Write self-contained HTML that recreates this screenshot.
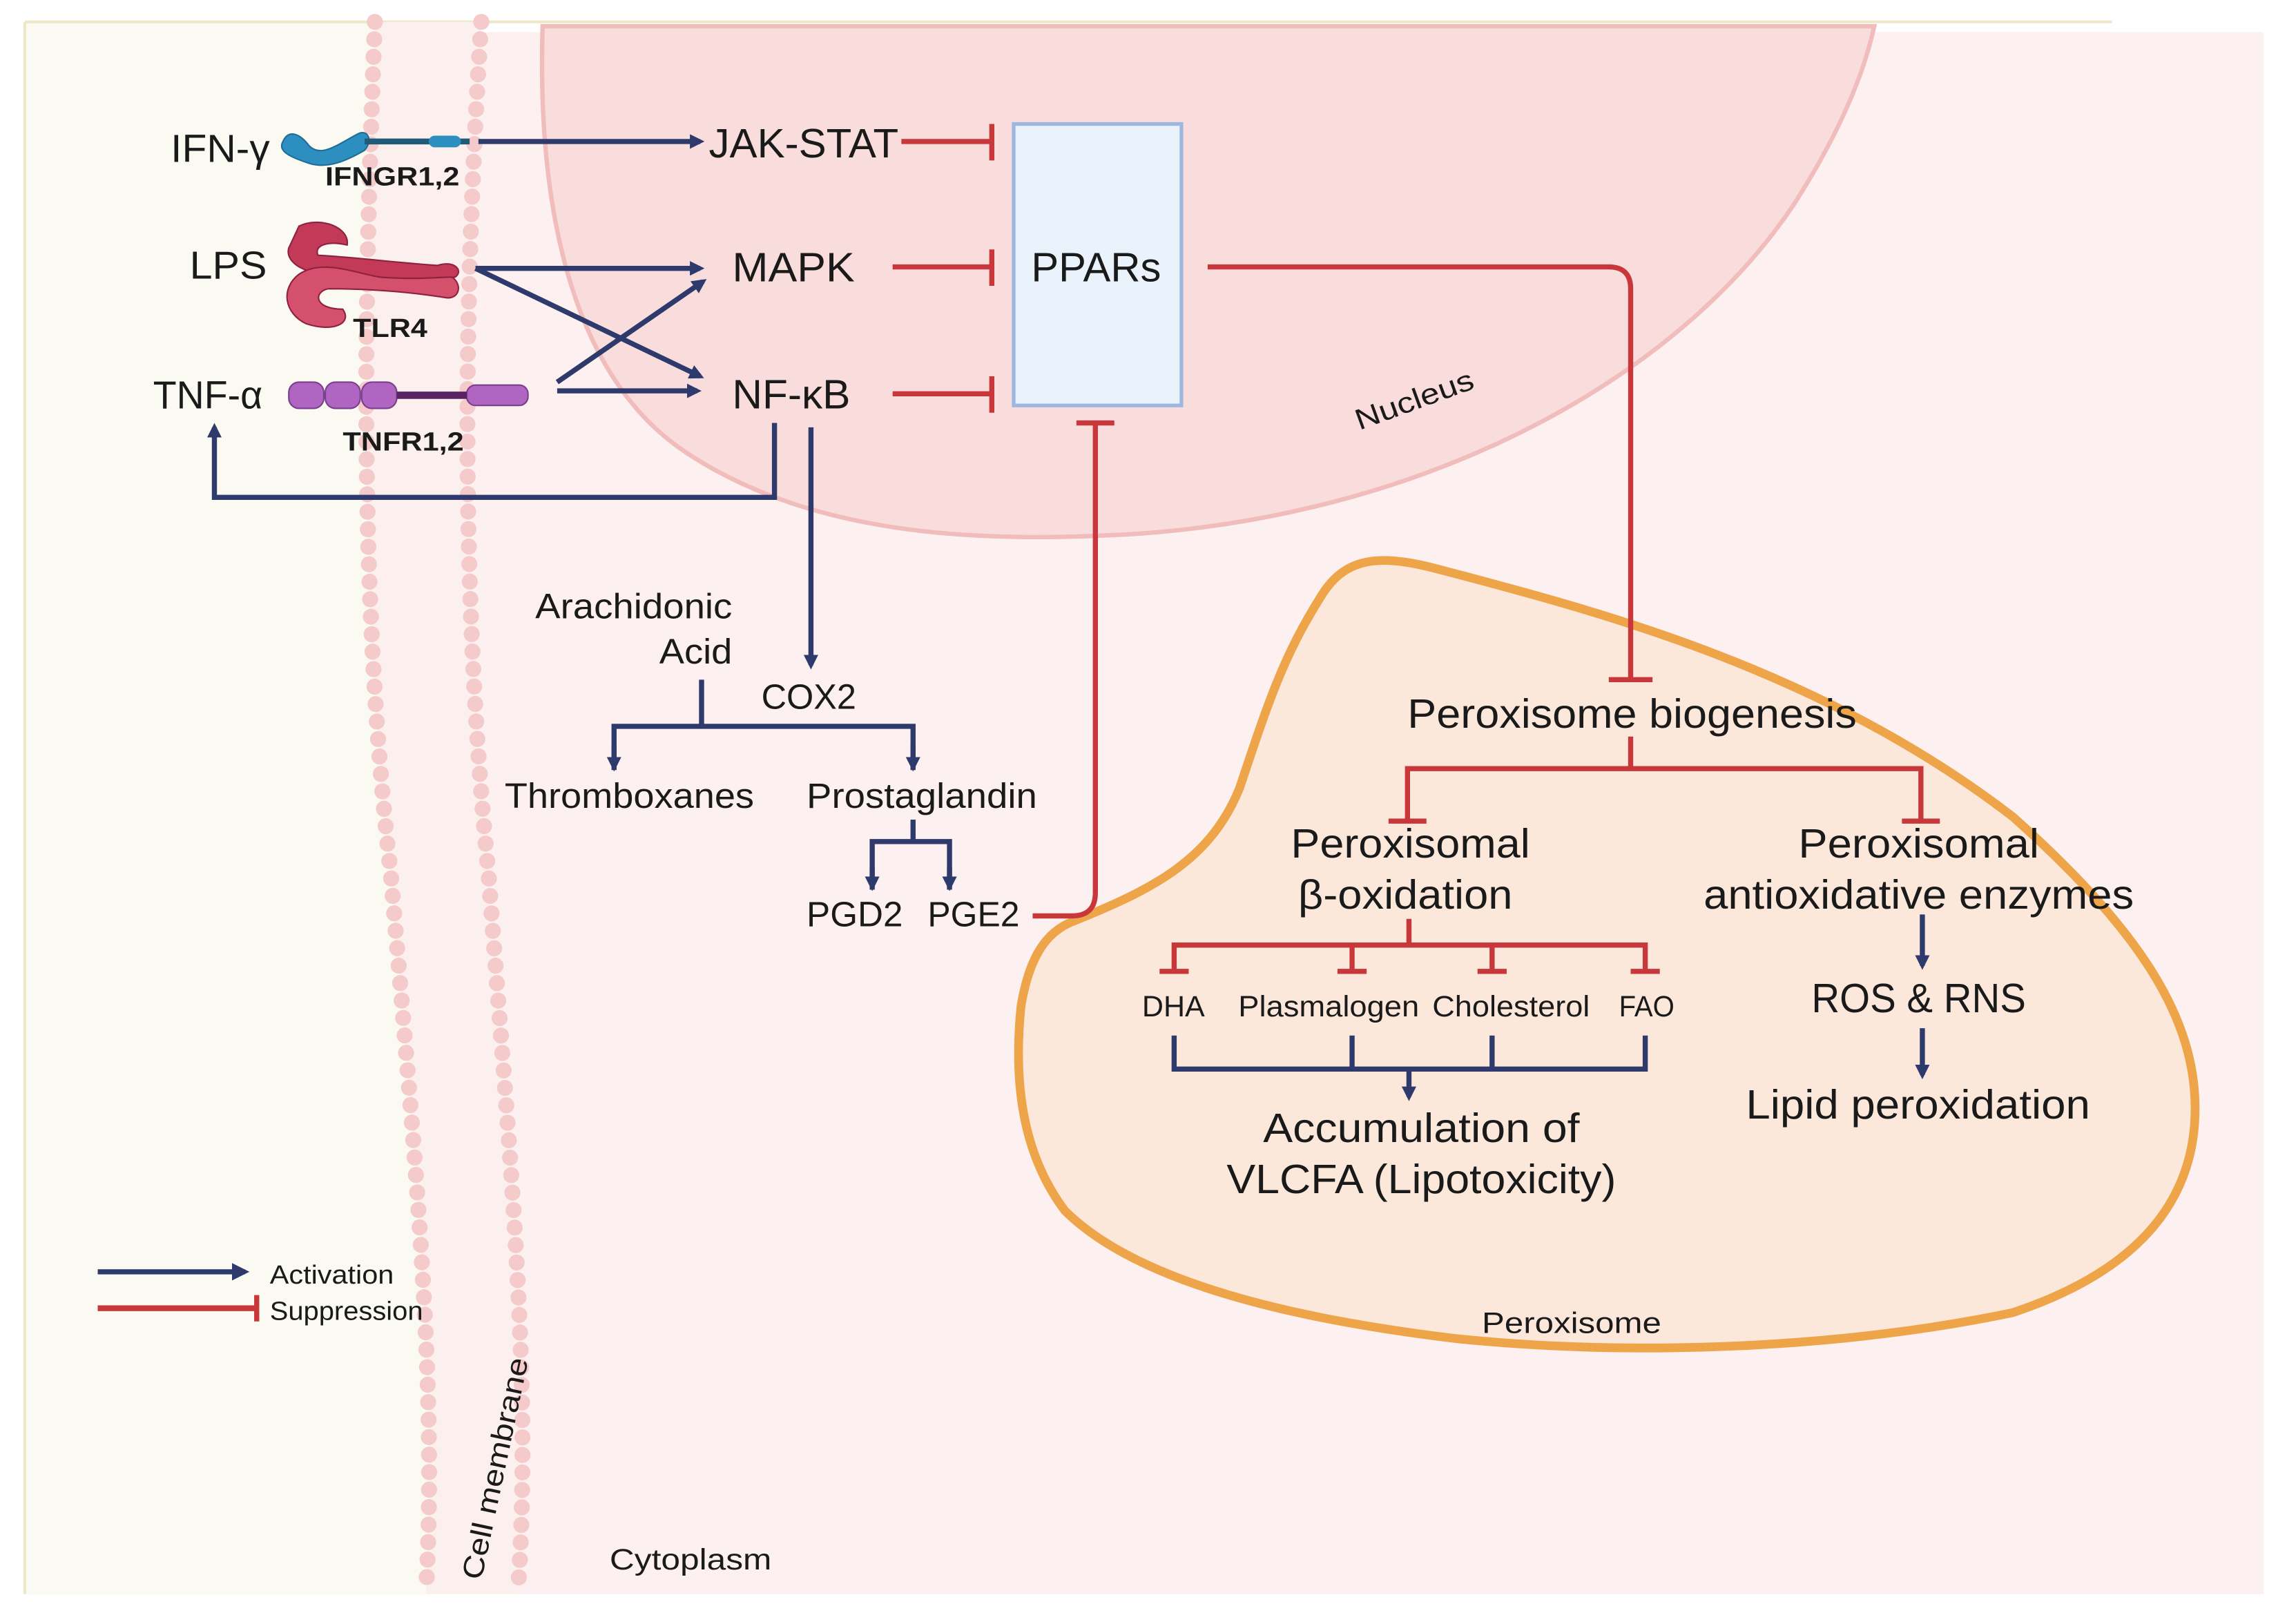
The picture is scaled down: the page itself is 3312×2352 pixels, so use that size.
<!DOCTYPE html>
<html><head><meta charset="utf-8"><style>
html,body{margin:0;padding:0;background:#fff;}
svg{display:block;}
text{font-family:"Liberation Sans",sans-serif;fill:#1a1a1a;}
</style></head><body>
<svg width="3312" height="2352" viewBox="0 0 1568 1113.5" xmlns="http://www.w3.org/2000/svg">
<defs>
<marker id="ab" markerWidth="10" markerHeight="10" refX="7" refY="5" orient="auto" markerUnits="userSpaceOnUse"><path d="M0,0 L10,5 L0,10 Z" fill="#2e3a6b"/></marker>
<marker id="abs" markerWidth="12" markerHeight="12" refX="9" refY="6" orient="auto" markerUnits="userSpaceOnUse"><path d="M0,0 L12,6 L0,12 Z" fill="#2e3a6b"/></marker>
</defs>
<rect width="1568" height="1113.5" fill="#fff"/>
<rect x="17" y="22" width="1535" height="1071" fill="#fdf0f0"/>
<path d="M17,15 L257,15 C250,200 245,400 268,600 C285,800 300,950 292,1093 L17,1093 Z" fill="#fbfaf2"/>
<line x1="17" y1="15" x2="1448" y2="15" stroke="#efe8c8" stroke-width="2"/>
<line x1="17" y1="15" x2="17" y2="1093" stroke="#efe8c8" stroke-width="2"/>
<!-- nucleus -->
<path d="M372,18 C368,150 395,260 470,310 C560,370 680,372 780,366 C980,352 1150,260 1230,140 C1262,90 1278,50 1285,18 Z" fill="#f9dcdc" stroke="#f1bcbc" stroke-width="3"/>
<!-- membrane -->
<path d="M257,15 C250,200 245,400 268,600 C285,800 300,950 292,1093 L355,1093 C365,950 350,800 335,600 C315,400 318,200 330,15 Z" fill="#fcf0ee"/>
<path d="M257,15 C250,200 245,400 268,600 C285,800 300,950 292,1093" fill="none" stroke="#f4caca" stroke-width="11" stroke-dasharray="0 12" stroke-linecap="round"/>
<path d="M330,15 C318,200 315,400 335,600 C350,800 365,950 355,1093" fill="none" stroke="#f4caca" stroke-width="11" stroke-dasharray="0 12" stroke-linecap="round"/>
<!-- peroxisome -->
<path d="M735,632 C790,610 830,590 850,540 C870,480 880,450 905,410 C920,385 940,378 985,390 C1100,420 1250,460 1380,560 C1470,640 1505,700 1505,760 C1505,820 1470,870 1380,900 C1260,925 1120,930 1000,918 C890,905 780,880 730,830 C700,790 695,740 700,690 C705,660 715,640 735,632 Z" fill="#fbe8db" stroke="#eea448" stroke-width="6"/>
<rect x="695" y="85" width="115" height="193" fill="#eaf2fb" stroke="#9db8e0" stroke-width="2.5"/>
<text x="707" y="193" font-size="28" textLength="89" lengthAdjust="spacingAndGlyphs">PPARs</text>
<!-- receptors -->
<path d="M194,97 C198,88 206,92 212,100 C220,108 230,100 245,92 C252,88 256,96 250,103 C238,110 225,116 212,112 C200,108 190,104 194,97 Z" fill="#2d8fbf" stroke="#1f6d96" stroke-width="1"/>
<line x1="250" y1="97" x2="322" y2="97" stroke="#1f5a78" stroke-width="4"/>
<rect x="294" y="93" width="22" height="8" rx="4" fill="#2d8fbf"/>
<path d="M205,155 C220,148 240,156 238,168 C225,165 215,168 218,175 C240,176 270,180 300,182 C312,178 318,186 312,190 C290,193 260,190 235,188 C210,190 195,180 198,170 Z" fill="#c23a58" stroke="#8e2140" stroke-width="1"/>
<path d="M205,188 C220,178 240,186 260,190 C285,192 300,190 310,190 C318,196 314,206 305,204 C280,200 255,198 225,198 C215,200 215,212 235,212 C242,222 228,228 210,222 C195,215 192,198 205,188 Z" fill="#d4506c" stroke="#8e2140" stroke-width="1"/>
<g fill="#b065c3" stroke="#7a3f8a" stroke-width="1">
<rect x="198" y="262" width="24" height="18" rx="7"/><rect x="223" y="262" width="24" height="18" rx="7"/><rect x="248" y="262" width="24" height="18" rx="7"/>
<rect x="320" y="264" width="42" height="14" rx="6"/></g>
<line x1="272" y1="271" x2="320" y2="271" stroke="#5a2462" stroke-width="5"/>
<!-- labels -->
<text x="117" y="111" font-size="27" textLength="68" lengthAdjust="spacingAndGlyphs">IFN-γ</text>
<text x="223" y="127" font-size="18" font-weight="bold" textLength="92" lengthAdjust="spacingAndGlyphs">IFNGR1,2</text>
<text x="130" y="191" font-size="27" textLength="53" lengthAdjust="spacingAndGlyphs">LPS</text>
<text x="242" y="231" font-size="18" font-weight="bold" textLength="51" lengthAdjust="spacingAndGlyphs">TLR4</text>
<text x="105" y="280" font-size="27" textLength="75" lengthAdjust="spacingAndGlyphs">TNF-α</text>
<text x="235" y="309" font-size="18" font-weight="bold" textLength="83" lengthAdjust="spacingAndGlyphs">TNFR1,2</text>
<text x="486" y="108" font-size="28" textLength="130" lengthAdjust="spacingAndGlyphs">JAK-STAT</text>
<text x="502" y="193" font-size="28" textLength="84" lengthAdjust="spacingAndGlyphs">MAPK</text>
<text x="502" y="280" font-size="28" textLength="81" lengthAdjust="spacingAndGlyphs">NF-κB</text>
<text transform="translate(932,295) rotate(-20)" font-size="20" textLength="85" lengthAdjust="spacingAndGlyphs">Nucleus</text>
<!-- blue arrows -->
<g stroke="#2e3a6b" stroke-width="3.5" fill="none">
<line x1="328" y1="97" x2="480" y2="97" marker-end="url(#ab)"/>
<line x1="326" y1="184" x2="480" y2="184" marker-end="url(#ab)"/>
<line x1="326" y1="184" x2="480" y2="258" marker-end="url(#ab)"/>
<line x1="382" y1="268" x2="478" y2="268" marker-end="url(#ab)"/>
<line x1="382" y1="262" x2="482" y2="193" marker-end="url(#ab)"/>
<polyline points="531,290 531,341 147,341 147,293" marker-end="url(#ab)"/>
<line x1="556" y1="293" x2="556" y2="456" marker-end="url(#ab)"/>
<line x1="481" y1="466" x2="481" y2="498"/>
<polyline points="421,528 421,498 626,498 626,528"/>
<line x1="421" y1="510" x2="421" y2="526" marker-end="url(#ab)"/>
<line x1="626" y1="510" x2="626" y2="526" marker-end="url(#ab)"/>
<line x1="626" y1="562" x2="626" y2="577"/>
<polyline points="598,610 598,577 651,577 651,610"/>
<line x1="598" y1="595" x2="598" y2="608" marker-end="url(#ab)"/>
<line x1="651" y1="595" x2="651" y2="608" marker-end="url(#ab)"/>
<polyline points="805,710 805,733 1128,733 1128,710"/>
<line x1="927" y1="710" x2="927" y2="733"/>
<line x1="1023" y1="710" x2="1023" y2="733"/>
<line x1="966" y1="733" x2="966" y2="752" marker-end="url(#ab)"/>
<line x1="1318" y1="627" x2="1318" y2="662" marker-end="url(#ab)"/>
<line x1="1318" y1="705" x2="1318" y2="737" marker-end="url(#ab)"/>
<line x1="67" y1="872" x2="168" y2="872" marker-end="url(#abs)"/>
</g>
<!-- red inhibitors -->
<g stroke="#c8373a" stroke-width="3.5" fill="none">
<line x1="618" y1="97" x2="680" y2="97"/><line x1="680" y1="85" x2="680" y2="110"/>
<line x1="612" y1="183" x2="680" y2="183"/><line x1="680" y1="171" x2="680" y2="196"/>
<line x1="612" y1="270" x2="680" y2="270"/><line x1="680" y1="258" x2="680" y2="283"/>
<path d="M708,628 L735,628 Q751,628 751,612 L751,290"/><line x1="738" y1="290" x2="764" y2="290"/>
<path d="M828,183 L1103,183 Q1118,183 1118,198 L1118,466"/><line x1="1103" y1="466" x2="1133" y2="466"/>
<line x1="1118" y1="505" x2="1118" y2="527"/>
<polyline points="965,562 965,527 1317,527 1317,562"/>
<line x1="952" y1="563" x2="978" y2="563"/><line x1="1304" y1="563" x2="1330" y2="563"/>
<line x1="966" y1="630" x2="966" y2="648"/>
<polyline points="805,665 805,648 1128,648 1128,665"/>
<line x1="927" y1="648" x2="927" y2="665"/><line x1="1023" y1="648" x2="1023" y2="665"/>
<line x1="795" y1="666" x2="815" y2="666"/><line x1="917" y1="666" x2="937" y2="666"/><line x1="1013" y1="666" x2="1033" y2="666"/><line x1="1118" y1="666" x2="1138" y2="666"/>
<line x1="67" y1="897" x2="176" y2="897" stroke-width="4"/><line x1="176" y1="888" x2="176" y2="906"/>
</g>
<!-- middle labels -->
<g font-size="24">
<text x="367" y="424" textLength="135" lengthAdjust="spacingAndGlyphs">Arachidonic</text>
<text x="452" y="455" textLength="50" lengthAdjust="spacingAndGlyphs">Acid</text>
<text x="522" y="486" textLength="65" lengthAdjust="spacingAndGlyphs">COX2</text>
<text x="346" y="554" textLength="171" lengthAdjust="spacingAndGlyphs">Thromboxanes</text>
<text x="553" y="554" textLength="158" lengthAdjust="spacingAndGlyphs">Prostaglandin</text>
<text x="553" y="635" textLength="66" lengthAdjust="spacingAndGlyphs">PGD2</text>
<text x="636" y="635" textLength="63" lengthAdjust="spacingAndGlyphs">PGE2</text>
</g>
<g font-size="28">
<text x="965" y="499" textLength="308" lengthAdjust="spacingAndGlyphs">Peroxisome biogenesis</text>
<text x="885" y="588" textLength="164" lengthAdjust="spacingAndGlyphs">Peroxisomal</text>
<text x="890" y="623" textLength="147" lengthAdjust="spacingAndGlyphs">β-oxidation</text>
<text x="1233" y="588" textLength="165" lengthAdjust="spacingAndGlyphs">Peroxisomal</text>
<text x="1168" y="623" textLength="295" lengthAdjust="spacingAndGlyphs">antioxidative enzymes</text>
<text x="1242" y="694" textLength="147" lengthAdjust="spacingAndGlyphs">ROS &amp; RNS</text>
<text x="1197" y="767" textLength="236" lengthAdjust="spacingAndGlyphs">Lipid peroxidation</text>
<text x="866" y="783" textLength="217" lengthAdjust="spacingAndGlyphs">Accumulation of</text>
<text x="841" y="818" textLength="267" lengthAdjust="spacingAndGlyphs">VLCFA (Lipotoxicity)</text>
</g>
<g font-size="20">
<text x="783" y="697" textLength="43" lengthAdjust="spacingAndGlyphs">DHA</text>
<text x="849" y="697" textLength="124" lengthAdjust="spacingAndGlyphs">Plasmalogen</text>
<text x="982" y="697" textLength="108" lengthAdjust="spacingAndGlyphs">Cholesterol</text>
<text x="1110" y="697" textLength="38" lengthAdjust="spacingAndGlyphs">FAO</text>
<text x="1016" y="914" textLength="123" lengthAdjust="spacingAndGlyphs">Peroxisome</text>
<text x="418" y="1076" textLength="111" lengthAdjust="spacingAndGlyphs">Cytoplasm</text>
<text x="185" y="880" font-size="18" textLength="85" lengthAdjust="spacingAndGlyphs">Activation</text>
<text x="185" y="905" font-size="18" textLength="105" lengthAdjust="spacingAndGlyphs">Suppression</text>
</g>
<text transform="translate(330,1084) rotate(-78)" font-size="20" textLength="155" lengthAdjust="spacingAndGlyphs">Cell membrane</text>
</svg>
</body></html>
